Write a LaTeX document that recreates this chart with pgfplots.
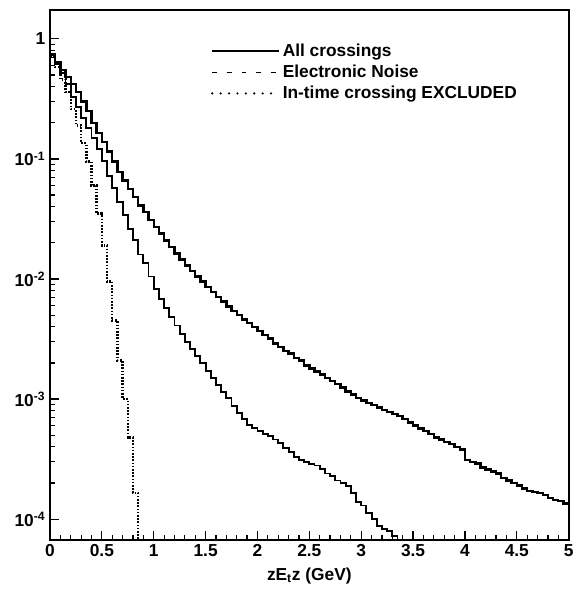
\documentclass[border=0pt]{standalone}
\usepackage{fontspec}
\setmainfont{Liberation Sans}
\usepackage{pgfplots}
\pgfplotsset{compat=1.18}
\usepackage{pgfplotstable}

\pgfplotstableread{
x y
0.00 0.74
0.05 0.64
0.10 0.55
0.15 0.48
0.20 0.42
0.25 0.36
0.30 0.30
0.35 0.25
0.40 0.20
0.45 0.165
0.50 0.138
0.55 0.115
0.60 0.095
0.65 0.078
0.70 0.066
0.75 0.056
0.80 0.048
0.85 0.041
0.90 0.036
0.95 0.031
1.00 0.027
1.05 0.024
1.10 0.021
1.15 0.0185
1.20 0.0163
1.25 0.0145
1.30 0.0130
1.35 0.0117
1.40 0.0105
1.45 0.0095
1.50 0.0086
1.55 0.0078
1.60 0.0071
1.65 0.0065
1.70 0.0059
1.75 0.0054
1.80 0.0050
1.85 0.0046
1.90 0.0043
1.95 0.0040
2.00 0.0037
2.05 0.0034
2.10 0.0032
2.15 0.0029
2.20 0.0027
2.25 0.0025
2.30 0.0024
2.35 0.0022
2.40 0.0021
2.45 0.0019
2.50 0.0018
2.55 0.0017
2.60 0.0016
2.65 0.00150
2.70 0.00142
2.75 0.00133
2.80 0.00125
2.85 0.00116
2.90 0.00109
2.95 0.00102
3.00 0.00097
3.05 0.00093
3.10 0.00089
3.15 0.00085
3.20 0.00081
3.25 0.00078
3.30 0.00075
3.35 0.00072
3.40 0.00068
3.45 0.00064
3.50 0.00060
3.55 0.00057
3.60 0.00054
3.65 0.00051
3.70 0.00048
3.75 0.00046
3.80 0.00044
3.85 0.00042
3.90 0.00040
3.95 0.00038
4.00 0.00031
4.05 0.00030
4.10 0.00029
4.15 0.00027
4.20 0.00026
4.25 0.00025
4.30 0.00024
4.35 0.00022
4.40 0.00021
4.45 0.00020
4.50 0.000190
4.55 0.000180
4.60 0.000172
4.65 0.000168
4.70 0.000165
4.75 0.000158
4.80 0.000150
4.85 0.000145
4.90 0.000142
4.95 0.000135
5.00 0.000135
}\allcross

\pgfplotstableread{
x y
0.00 0.74
0.05 0.62
0.10 0.52
0.15 0.42
0.20 0.33
0.25 0.27
0.30 0.22
0.35 0.18
0.40 0.15
0.45 0.12
0.50 0.096
0.55 0.072
0.60 0.057
0.65 0.044
0.70 0.034
0.75 0.026
0.80 0.021
0.85 0.016
0.90 0.0135
0.95 0.0105
1.00 0.0082
1.05 0.0068
1.10 0.0057
1.15 0.0048
1.20 0.0041
1.25 0.0035
1.30 0.0030
1.35 0.0026
1.40 0.0023
1.45 0.0020
1.50 0.00170
1.55 0.00150
1.60 0.00130
1.65 0.00115
1.70 0.00102
1.75 0.00088
1.80 0.00077
1.85 0.00068
1.90 0.00061
1.95 0.00057
2.00 0.00054
2.05 0.00051
2.10 0.00049
2.15 0.00046
2.20 0.00043
2.25 0.00039
2.30 0.00036
2.35 0.00033
2.40 0.00031
2.45 0.00030
2.50 0.00029
2.55 0.00028
2.60 0.00026
2.65 0.00024
2.70 0.00023
2.75 0.00021
2.80 0.00020
2.85 0.00019
2.90 0.000165
2.95 0.000140
3.00 0.000130
3.05 0.000112
3.10 0.000100
3.15 0.000088
3.20 0.000083
3.25 0.000080
3.30 0.000072
3.35 0.000030
3.40 0.000030
}\noise

\pgfplotstableread{
x y
0.00 0.72
0.05 0.58
0.10 0.46
0.15 0.36
0.20 0.26
0.25 0.19
0.30 0.135
0.35 0.095
0.40 0.060
0.45 0.035
0.50 0.019
0.55 0.0095
0.60 0.0045
0.65 0.0021
0.70 0.00100
0.75 0.00048
0.80 0.000165
0.85 0.000030
0.90 0.000030
}\intime

\begin{document}
\begin{tikzpicture}
\begin{axis}[
  name=ax,
  scale only axis,
  width=389pt, height=397.5pt,
  xmin=0, xmax=5,
  ymode=log, ymin=6.7e-5, ymax=1.74,
  axis line style={line width=1.3pt},
  tick pos=left, tick align=inside,
  xtick={0,0.5,...,5},
  xticklabels={0,0.5,1,1.5,2,2.5,3,3.5,4,4.5,5},
  minor x tick num=4,
  ytick={1e-4,1e-3,1e-2,1e-1,1},
  yticklabels={10\textsuperscript{-4},10\textsuperscript{-3},10\textsuperscript{-2},10\textsuperscript{-1},1},
  major tick length=7pt, minor tick length=4pt,
  every tick/.style={line width=0.9pt, black},
  ticklabel style={font=\fontsize{13}{15}\selectfont\bfseries},
  xlabel={zE\textsubscript{t}z (GeV)},
  xlabel style={font=\fontsize{13}{15}\selectfont\bfseries, yshift=-1pt},
  legend style={draw=none, fill=none, at={(0.31,0.942)}, anchor=north west,
    font=\fontsize{13}{15}\selectfont\bfseries, row sep=1pt, inner sep=0pt},
  legend cell align=left,
]
\addplot[const plot mark left, line width=1.8pt, black, forget plot] table[x=x,y=y] {\allcross};
\addplot[const plot mark left, line width=1.4pt, black, forget plot] table[x=x,y=y] {\noise};
\addplot[const plot mark left, line width=1.8pt, black, dash pattern=on 1.2pt off 1.2pt, forget plot] table[x=x,y=y] {\intime};
\addlegendimage{legend image code/.code={\draw[line width=0.9pt, black] (0pt,0pt) -- (50pt,0pt);}}
\addlegendentry{All crossings}
\addlegendimage{legend image code/.code={\draw[line width=0.9pt, black, dash pattern=on 3.5pt off 7.5pt] (0pt,0pt) -- (50pt,0pt);}}
\addlegendentry{Electronic Noise}
\addlegendimage{legend image code/.code={\draw[line width=1.8pt, black, line cap=round, dash pattern=on 0pt off 6.3pt] (0pt,0pt) -- (50pt,0pt);}}
\addlegendentry{In-time crossing EXCLUDED}
\end{axis}
\path ([xshift=-37.5pt,yshift=-42pt]ax.south west) rectangle ([xshift=6pt,yshift=7.5pt]ax.north east);
\end{tikzpicture}
\end{document}
